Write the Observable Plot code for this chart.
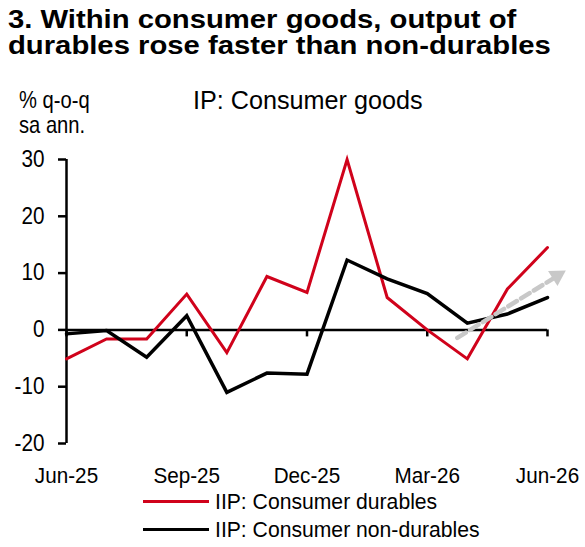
<!DOCTYPE html>
<html>
<head>
<meta charset="utf-8">
<script src="https://cdn.jsdelivr.net/npm/d3@7"></script>
<script src="https://cdn.jsdelivr.net/npm/@observablehq/plot@0.6"></script>
<style>
  html, body { margin: 0; padding: 0; background: #fff; }
  #page { position: relative; width: 585px; height: 547px; overflow: hidden; background: #fff; color: #000;
          font-family: 'Liberation Sans', Arial, sans-serif; }
  .title { position: absolute; left: 8px; font-weight: bold; font-size: 25.5px; line-height: 26px; height: 26px;
           white-space: nowrap; transform: scaleX(1.147); transform-origin: 0 0; }
  .lbl { position: absolute; white-space: nowrap; transform-origin: 0 0; }
  #chart { position: absolute; left: 0; top: 140px; }
  #legend { position: absolute; left: 143px; top: 487.5px; font-size: 22.5px; }
  .row { display: flex; align-items: center; height: 28px; line-height: 28px; }
  .sw { width: 66px; height: 3.5px; margin-right: 6px; flex: none; }
  .row span { display: inline-block; white-space: nowrap; transform: scaleX(0.94); transform-origin: 0 50%; }
</style>
</head>
<body>
<div id="page">
  <div class="title" style="top:5.5px;">3. Within consumer goods, output of</div>
  <div class="title" style="top:32px;">durables rose faster than non-durables</div>
  <div class="lbl" style="left:19px; top:88px; font-size:24px; line-height:24px; transform:scaleX(0.84);">% q-o-q</div>
  <div class="lbl" style="left:19px; top:112.7px; font-size:24px; line-height:24px; transform:scaleX(0.84);">sa ann.</div>
  <div class="lbl" style="left:192.5px; top:87px; font-size:26.5px; line-height:26.5px; transform:scaleX(0.95);">IP: Consumer goods</div>
  <div id="chart"></div>
  <div id="legend"></div>
</div>
<script>
// Months (monthly observations)
const months = ["Jun-25","Jul-25","Aug-25","Sep-25","Oct-25","Nov-25","Dec-25",
                "Jan-26","Feb-26","Mar-26","Apr-26","May-26","Jun-26"];
// IIP: Consumer durables, % q-o-q sa ann.
const durables = [-5.1, -1.6, -1.6, 6.3, -4.0, 9.4, 6.6, 30.0, 5.7, 0.0, -5.1, 7.2, 14.5];
// IIP: Consumer non-durables, % q-o-q sa ann.
const nonDurables = [-0.7, -0.1, -4.8, 2.5, -11.0, -7.6, -7.8, 12.3, 9.0, 6.4, 1.2, 2.8, 5.7];
// x-axis tick positions (indices into months)
const xTicks = [0, 3, 6, 9, 12];
const yTicks = [-20, -10, 0, 10, 20, 30];
// trend arrow annotation (month index, value)
const arrowX = [9.75, 12.2];
const arrowY = [-1.4, 9.3];
const arrowHeadX = [12.24];
const arrowHeadY = [9.52];

const series = [
  {name: "IIP: Consumer durables", values: durables, color: "#d0021b", width: 3},
  {name: "IIP: Consumer non-durables", values: nonDurables, color: "#000000", width: 3.5}
];

const FONT = "'Liberation Sans', Arial, sans-serif";

const lineMarks = series.map(s =>
  Plot.line(s.values, {x: (d, i) => i, y: d => d, stroke: s.color, strokeWidth: s.width,
    strokeLinejoin: "miter", strokeMiterlimit: 10})
);

const arrowData = arrowX.map((x, i) => ({x, y: arrowY[i]}));

const chart = Plot.plot({
  width: 585,
  height: 350,
  marginLeft: 66,
  marginRight: 38,
  marginTop: 19,
  marginBottom: 47,
  style: {fontFamily: FONT, fontSize: "23px", color: "#000", background: "transparent", overflow: "visible"},
  x: {domain: [0, 12]},
  y: {domain: [-20, 30]},
  marks: [
    Plot.ruleY([0], {x1: 0, x2: 12, stroke: "#000", strokeWidth: 2.5}),
    Plot.ruleX(xTicks, {x: d => d, y1: 0, y2: 0, insetBottom: -7, stroke: "#000", strokeWidth: 2.5}),
    Plot.ruleX([0], {y1: -20, y2: 30, stroke: "#000", strokeWidth: 2.5}),
    Plot.axisY({ticks: yTicks, tickSize: 8, tickPadding: 14, strokeWidth: 2.5, fontSize: 23,
      tickFormat: d => String(d), label: null}),
    Plot.axisX({ticks: xTicks, tickSize: 0, tickPadding: 24, fontSize: 22.5,
      tickFormat: i => months[i], label: null}),
    ...lineMarks,
    Plot.line(arrowData, {x: "x", y: "y", stroke: "#c8c8c8", strokeWidth: 4.5, strokeDasharray: "10,5"}),
    Plot.dot(arrowHeadX.map((x, i) => ({x, y: arrowHeadY[i]})),
      {x: "x", y: "y", symbol: "triangle", r: 6.6, fill: "#c8c8c8", stroke: "none", rotate: 58})
  ]
});

// Condense axis tick labels slightly (narrow typeface in the original)
function squeeze(svg, label, k) {
  svg.querySelectorAll(`g[aria-label="${label}"] text`).forEach(t => {
    const xa = t.getAttribute("x");
    const x = xa !== null && isFinite(+xa) ? +xa : 0;
    if (x !== 0) t.removeAttribute("x");
    const tr = t.getAttribute("transform") || "";
    t.setAttribute("transform", `${tr} translate(${x},0) scale(${k},1)`);
  });
}
squeeze(chart, "y-axis tick label", 0.9);
squeeze(chart, "x-axis tick label", 0.92);

document.getElementById("chart").appendChild(chart);

const legend = document.getElementById("legend");
for (const s of series) {
  const row = document.createElement("div");
  row.className = "row";
  const sw = document.createElement("div");
  sw.className = "sw";
  sw.style.background = s.color;
  const t = document.createElement("span");
  t.textContent = s.name;
  row.appendChild(sw);
  row.appendChild(t);
  legend.appendChild(row);
}
</script>
</body>
</html>
